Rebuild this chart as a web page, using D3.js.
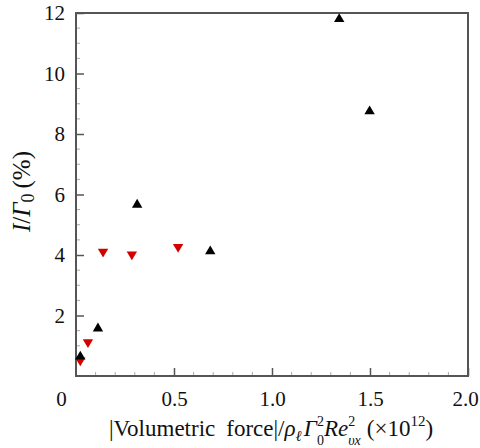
<!DOCTYPE html>
<html>
<head>
<meta charset="utf-8">
<script src="https://cdn.jsdelivr.net/npm/d3@7"></script>
<style>
  html, body { margin: 0; padding: 0; background: #fff; }
  svg { display: block; }
  .c { font-family: "Liberation Serif", "DejaVu Serif", serif; }
</style>
</head>
<body>
<svg id="s" width="480" height="448"></svg>
<script>
// Impulse ratio versus normalised volumetric force
const seriesUpX   = [0.022, 0.112, 0.312, 0.685, 1.343, 1.498];
const seriesUpY   = [0.69, 1.62, 5.71, 4.17, 11.85, 8.80];
const seriesDownX = [0.022, 0.061, 0.138, 0.285, 0.521];
const seriesDownY = [0.47, 1.07, 4.06, 3.97, 4.22];

const xTicks = [0, 0.5, 1.0, 1.5, 2.0];
const xTickLabels = ["0", "0.5", "1.0", "1.5", "2.0"];
const yTicks = [2, 4, 6, 8, 10, 12];
const yTickLabels = ["2", "4", "6", "8", "10", "12"];

const SERIF = '"Liberation Serif"';
const W = 480, H = 448;
const margin = { top: 13, right: 12, bottom: 72, left: 76 };
const iw = W - margin.left - margin.right;
const ih = H - margin.top - margin.bottom;

const svg = d3.select("#s");
const g = svg.append("g").attr("transform", `translate(${margin.left},${margin.top})`);

const x = d3.scaleLinear().domain([0, 2]).range([0, iw]);
const y = d3.scaleLinear().domain([0, 12]).range([ih, 0]);

const frameColor = "#555";

function serif(sel, size) {
  return sel.attr("class", "c")
    .style("font-family", SERIF)
    .attr("font-size", size)
    .attr("fill", "#111");
}

// Minor ticks (inward)
const xMinor = d3.range(0, 2.0001, 0.1).filter(v => Math.abs(v * 2 - Math.round(v * 2)) > 1e-6);
const yMinor = d3.range(0, 12.0001, 0.5).filter(v => Math.abs(v / 2 - Math.round(v / 2)) > 1e-6);

g.append("g").selectAll("line").data(xMinor).join("line")
  .attr("x1", d => x(d)).attr("x2", d => x(d))
  .attr("y1", ih).attr("y2", ih - 4)
  .attr("stroke", "#aaa").attr("stroke-width", 1);

g.append("g").selectAll("line").data(yMinor).join("line")
  .attr("y1", d => y(d)).attr("y2", d => y(d))
  .attr("x1", 0).attr("x2", 4)
  .attr("stroke", "#aaa").attr("stroke-width", 1);

// Major ticks with labels
const xAxis = d3.axisBottom(x).tickValues(xTicks)
  .tickFormat((d, i) => xTickLabels[i]).tickSizeInner(-8).tickSizeOuter(0).tickPadding(15);
const gx = g.append("g").attr("transform", `translate(0,${ih})`).call(xAxis);
gx.select(".domain").remove();
gx.selectAll(".tick line").attr("stroke", frameColor).attr("stroke-width", 1.5);
serif(gx.selectAll(".tick text"), 21);
// the shared origin label sits left of the corner
gx.selectAll(".tick").filter(d => d === 0).select("text").attr("x", -15);
gx.selectAll(".tick").filter(d => d === 0).select("line").remove();
// keep the last label inside the canvas
gx.selectAll(".tick").filter(d => d === 2).select("text").attr("x", -3);

const yAxis = d3.axisLeft(y).tickValues(yTicks)
  .tickFormat((d, i) => yTickLabels[i]).tickSizeInner(-8).tickSizeOuter(0).tickPadding(11);
const gy = g.append("g").call(yAxis);
gy.select(".domain").remove();
gy.selectAll(".tick line").attr("stroke", frameColor).attr("stroke-width", 1.5);
serif(gy.selectAll(".tick text"), 21);

// Frame
g.append("rect").attr("x", 0).attr("y", 0).attr("width", iw).attr("height", ih)
  .attr("fill", "none").attr("stroke", frameColor).attr("stroke-width", 2);

// Markers
function tri(up) {
  const w = 5.2, h = 4.4;
  return up ? `M0,${-h}L${w},${h}L${-w},${h}Z` : `M0,${h}L${w},${-h}L${-w},${-h}Z`;
}
const upData = seriesUpX.map((v, i) => [v, seriesUpY[i]]);
const downData = seriesDownX.map((v, i) => [v, seriesDownY[i]]);

g.append("g").selectAll("path").data(downData).join("path")
  .attr("d", tri(false))
  .attr("transform", d => `translate(${x(d[0])},${y(d[1])})`)
  .attr("fill", "#d40000");

g.append("g").selectAll("path").data(upData).join("path")
  .attr("d", tri(true))
  .attr("transform", d => `translate(${x(d[0])},${y(d[1])})`)
  .attr("fill", "#000");

// Y axis title
const yt = serif(svg.append("text"), 25)
  .attr("transform", `translate(30,${margin.top + y(6.1)}) rotate(-90)`)
  .attr("text-anchor", "middle");
yt.append("tspan").attr("font-style", "italic").text("I");
yt.append("tspan").text("/");
yt.append("tspan").attr("font-style", "italic").text("Γ");
yt.append("tspan").attr("font-size", 18).attr("dy", 4).text("0");
yt.append("tspan").attr("dy", -4).attr("dx", 5).text("(%)");

// X axis title; stacked super/subscripts kept apart vertically
const xt = serif(svg.append("text"), 23)
  .attr("x", 271).attr("y", 436)
  .attr("text-anchor", "middle");
xt.append("tspan").text("|Volumetric");
xt.append("tspan").attr("dx", 11).text("force|/");
xt.append("tspan").attr("font-style", "italic").text("ρ");
xt.append("tspan").attr("font-style", "italic").attr("font-size", 15).attr("dy", 5).text("ℓ");
xt.append("tspan").attr("font-style", "italic").attr("dy", -5).attr("dx", 2).text("Γ");
xt.append("tspan").attr("font-size", 14).attr("dy", -10).text("2");
xt.append("tspan").attr("font-size", 14).attr("dy", 19).attr("dx", -7).text("0");
xt.append("tspan").attr("font-style", "italic").attr("dy", -9).text("Re");
xt.append("tspan").attr("font-size", 14).attr("dy", -10).text("2");
xt.append("tspan").attr("font-style", "italic").attr("font-size", 14).attr("dy", 19).attr("dx", -7).text("υx");
xt.append("tspan").attr("dy", -9).attr("dx", 6).text("(×10");
xt.append("tspan").attr("font-size", 15).attr("dy", -10).text("12");
xt.append("tspan").attr("dy", 10).text(")");
</script>
</body>
</html>
